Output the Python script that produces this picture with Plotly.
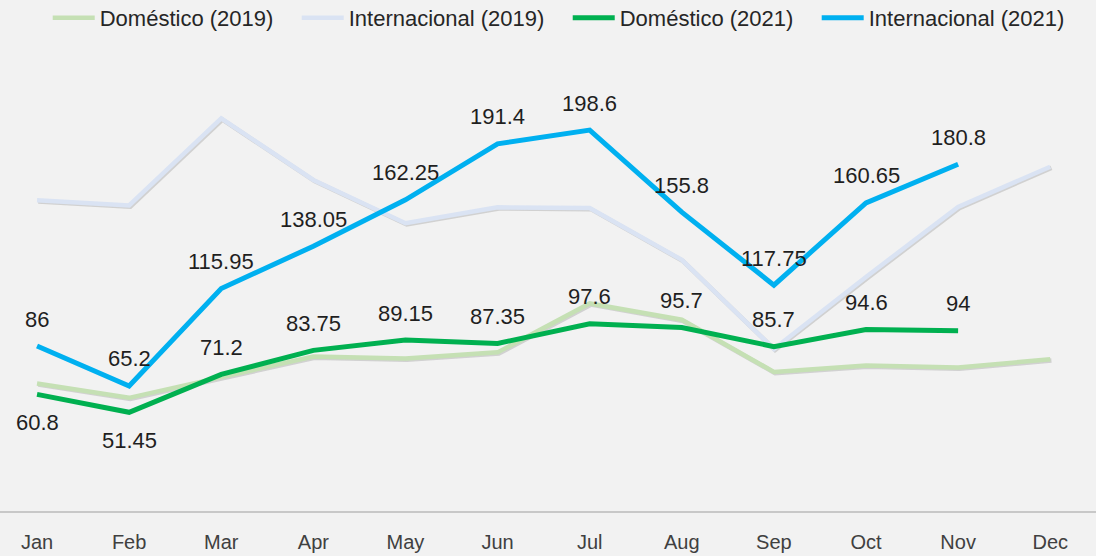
import plotly.graph_objects as go

months = ["Jan", "Feb", "Mar", "Apr", "May", "Jun", "Jul", "Aug", "Sep", "Oct", "Nov", "Dec"]
dom_2019 = [66.5, 59.0, 69.8, 80.5, 79.5, 82.7, 108.2, 99.7, 72.5, 75.8, 74.8, 79.1]
intl_2019 = [162.0, 159.3, 204.7, 172.6, 150.0, 158.3, 158.0, 130.9, 84.5, 122.0, 158.5, 179.5]
dom_2021 = [60.8, 51.45, 71.2, 83.75, 89.15, 87.35, 97.6, 95.7, 85.7, 94.6, 94, None]
intl_2021 = [86, 65.2, 115.95, 138.05, 162.25, 191.4, 198.6, 155.8, 117.75, 160.65, 180.8, None]

names = ["Doméstico (2019)", "Internacional (2019)", "Doméstico (2021)", "Internacional (2021)"]
colors = ["#C5E0B4", "#DAE3F3", "#00B050", "#00B0F0"]
widths = [4.5, 4.5, 5, 5]
series = [dom_2019, intl_2019, dom_2021, intl_2021]

FONT = "Liberation Sans"
PAD = "\u00a0\u00a0\u00a0"

XR = [-0.402, 11.497]
YR = [0, 266.4]
# shadow axes: shifted ~1.2 px right and down
sx = 1.2 / 92.1
sy = 1.2 / 1.918

fig = go.Figure()
# subtle drop shadow for 2019 lines (Excel style), drawn on the base axes (underneath)
for vals in (dom_2019, intl_2019):
    fig.add_trace(go.Scatter(
        x=months, y=vals, mode="lines", showlegend=False,
        line=dict(color="rgba(90,90,90,0.22)", width=4.5),
        xaxis="x", yaxis="y", hoverinfo="skip",
    ))

for name, vals, col, w in zip(names, series, colors, widths):
    fig.add_trace(go.Scatter(
        x=months, y=vals, mode="lines", name=name + PAD,
        line=dict(color=col, width=w),
        xaxis="x2", yaxis="y2",
        connectgaps=False, hoverinfo="skip",
    ))

annotations = []
for m, v in zip(months, intl_2021):
    if v is None:
        continue
    annotations.append(dict(x=m, y=v, xref="x2", yref="y2", text=f"{v:g}",
                            showarrow=False, yshift=27,
                            font=dict(size=22, color="#1F1F1F", family=FONT)))
for i, (m, v) in enumerate(zip(months, dom_2021)):
    if v is None:
        continue
    shift = -28 if i < 2 else 27
    annotations.append(dict(x=m, y=v, xref="x2", yref="y2", text=f"{v:g}",
                            showarrow=False, yshift=shift,
                            font=dict(size=22, color="#1F1F1F", family=FONT)))

fig.update_layout(
    width=1096, height=556,
    paper_bgcolor="#F2F2F2", plot_bgcolor="#F2F2F2",
    margin=dict(l=0, r=0, t=0, b=45, autoexpand=False),
    font=dict(family=FONT, color="#262626"),
    showlegend=True,
    legend=dict(orientation="h", x=0.518, xanchor="center", y=1 - 18 / 511,
                yanchor="middle",
                font=dict(size=22, color="#262626", family=FONT),
                bgcolor="rgba(0,0,0,0)", itemwidth=42, traceorder="normal"),
    xaxis=dict(type="category", range=[XR[0] - sx, XR[1] - sx], showgrid=False,
               zeroline=False, showline=False, showticklabels=False, ticks="",
               categoryorder="array", categoryarray=months),
    yaxis=dict(range=[YR[0] + sy, YR[1] + sy], showgrid=False, zeroline=False,
               showticklabels=False, showline=False),
    xaxis2=dict(type="category", range=XR, overlaying="x", side="bottom",
                showgrid=False, zeroline=False,
                showline=True, linecolor="#C8C8C8", linewidth=1.5,
                ticks="", tickfont=dict(size=20, color="#404040", family=FONT),
                ticklabelstandoff=12, categoryorder="array", categoryarray=months),
    yaxis2=dict(range=YR, overlaying="y", showgrid=False, zeroline=False,
                showticklabels=False, showline=False),
    annotations=annotations,
)

fig.write_html("out.html", config={"displayModeBar": False},
               post_script="document.body.style.margin='0';")
